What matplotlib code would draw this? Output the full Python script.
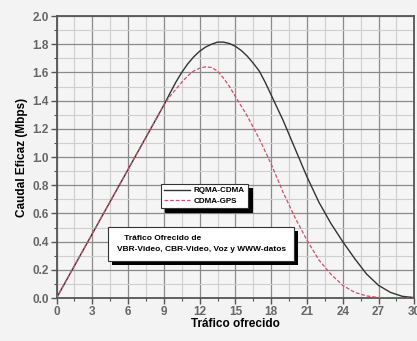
import matplotlib
matplotlib.use("Agg")
import matplotlib.pyplot as plt
import matplotlib.patheffects as pe
from matplotlib.ticker import MultipleLocator

# traffic offered (x) and throughput in Mbps for each scheme
trafico = [0, 1, 2, 3, 4, 5, 6, 7, 8, 9, 9.5, 10, 10.5, 11, 11.5, 12, 12.5, 13,
           13.5, 14, 14.5, 15, 15.5, 16, 16.5, 17, 17.5, 18, 19, 20, 21, 22, 23,
           24, 25, 26, 27, 28, 29, 30]
rqma_cdma = [0.0, 0.152, 0.304, 0.456, 0.608, 0.76, 0.912, 1.064, 1.216, 1.368,
             1.45, 1.53, 1.60, 1.66, 1.71, 1.75, 1.78, 1.80, 1.815, 1.815,
             1.805, 1.785, 1.755, 1.715, 1.665, 1.61, 1.53, 1.44, 1.26, 1.06,
             0.86, 0.68, 0.53, 0.40, 0.28, 0.17, 0.09, 0.04, 0.012, 0.003]
cdma_gps = [0.0, 0.152, 0.304, 0.456, 0.608, 0.76, 0.912, 1.064, 1.216, 1.368,
            1.43, 1.48, 1.53, 1.575, 1.61, 1.63, 1.64, 1.635, 1.61, 1.56,
            1.50, 1.43, 1.36, 1.29, 1.21, 1.13, 1.04, 0.95, 0.75, 0.57,
            0.41, 0.27, 0.17, 0.09, 0.04, 0.015, 0.004, 0.0, 0.0, 0.0]

plt.rcParams["font.family"] = ["Liberation Sans", "DejaVu Sans"]

fig = plt.figure(figsize=(4.17, 3.41), dpi=100)
fig.patch.set_facecolor("#f3f3f3")
ax = fig.add_axes([0.1355, 0.126, 0.858, 0.827])
ax.set_facecolor("#f5f5f5")

ax.plot(trafico, rqma_cdma, "-", color="#333333", lw=1.0, label="RQMA-CDMA", zorder=3)
ax.plot(trafico, cdma_gps, "--", color="#d0506a", lw=0.9, dashes=(3, 1.5),
        label="CDMA-GPS", zorder=3)

ax.set_xlim(0, 30)
ax.set_ylim(0, 2.0)
ax.xaxis.set_minor_locator(MultipleLocator(1.5))
ax.yaxis.set_minor_locator(MultipleLocator(0.1))
ax.set_xticks(range(0, 31, 3))
ax.set_xticklabels([str(v) for v in range(0, 31, 3)], fontweight="bold")
ax.set_yticks([v / 10 for v in range(0, 21, 2)])
ax.set_yticklabels([f"{v/10:.1f}" for v in range(0, 21, 2)], fontweight="bold")

ax.grid(which="major", color="#8a8a8a", lw=0.9)
ax.grid(which="minor", color="#cfcfcf", lw=0.8)
ax.set_axisbelow(True)

for s in ax.spines.values():
    s.set_color("#555555")
    s.set_linewidth(1.3)

ax.tick_params(which="major", direction="out", length=4, width=1, color="#555555",
               labelsize=8.5, labelcolor="#666666", pad=1.5)
ax.tick_params(which="minor", direction="out", length=2.5, width=0.8, color="#555555")

ax.set_xlabel("Tráfico ofrecido", fontsize=8.5, fontweight="bold", labelpad=0)
ax.set_ylabel("Caudal Eficaz (Mbps)", fontsize=8.5, fontweight="bold", labelpad=3)

leg = ax.legend(loc="upper left", bbox_to_anchor=(0.28, 0.42), fontsize=5.8,
                frameon=True, fancybox=False, edgecolor="#333333",
                borderpad=0.4, handlelength=3.2, handletextpad=0.5,
                labelspacing=0.3, framealpha=1,
                shadow={"color": "black", "alpha": 1, "ox": 3, "oy": -3})
leg.get_frame().set_linewidth(0.8)
for t in leg.get_texts():
    t.set_fontweight("bold")

txt = ax.text(0.168, 0.16, "   Tráfico Ofrecido de\nVBR-Video, CBR-Video, Voz y WWW-datos",
              transform=ax.transAxes, fontsize=6.0, fontweight="bold",
              ha="left", va="bottom", linespacing=1.8,
              bbox=dict(boxstyle="square,pad=1.0", facecolor="white",
                        edgecolor="#333333", linewidth=0.8), zorder=5)
txt.get_bbox_patch().set_path_effects([
    pe.SimplePatchShadow(offset=(3, -3), shadow_rgbFace="black", alpha=1),
    pe.Normal()])

fig.savefig("out.png", dpi=100, facecolor=fig.get_facecolor())
